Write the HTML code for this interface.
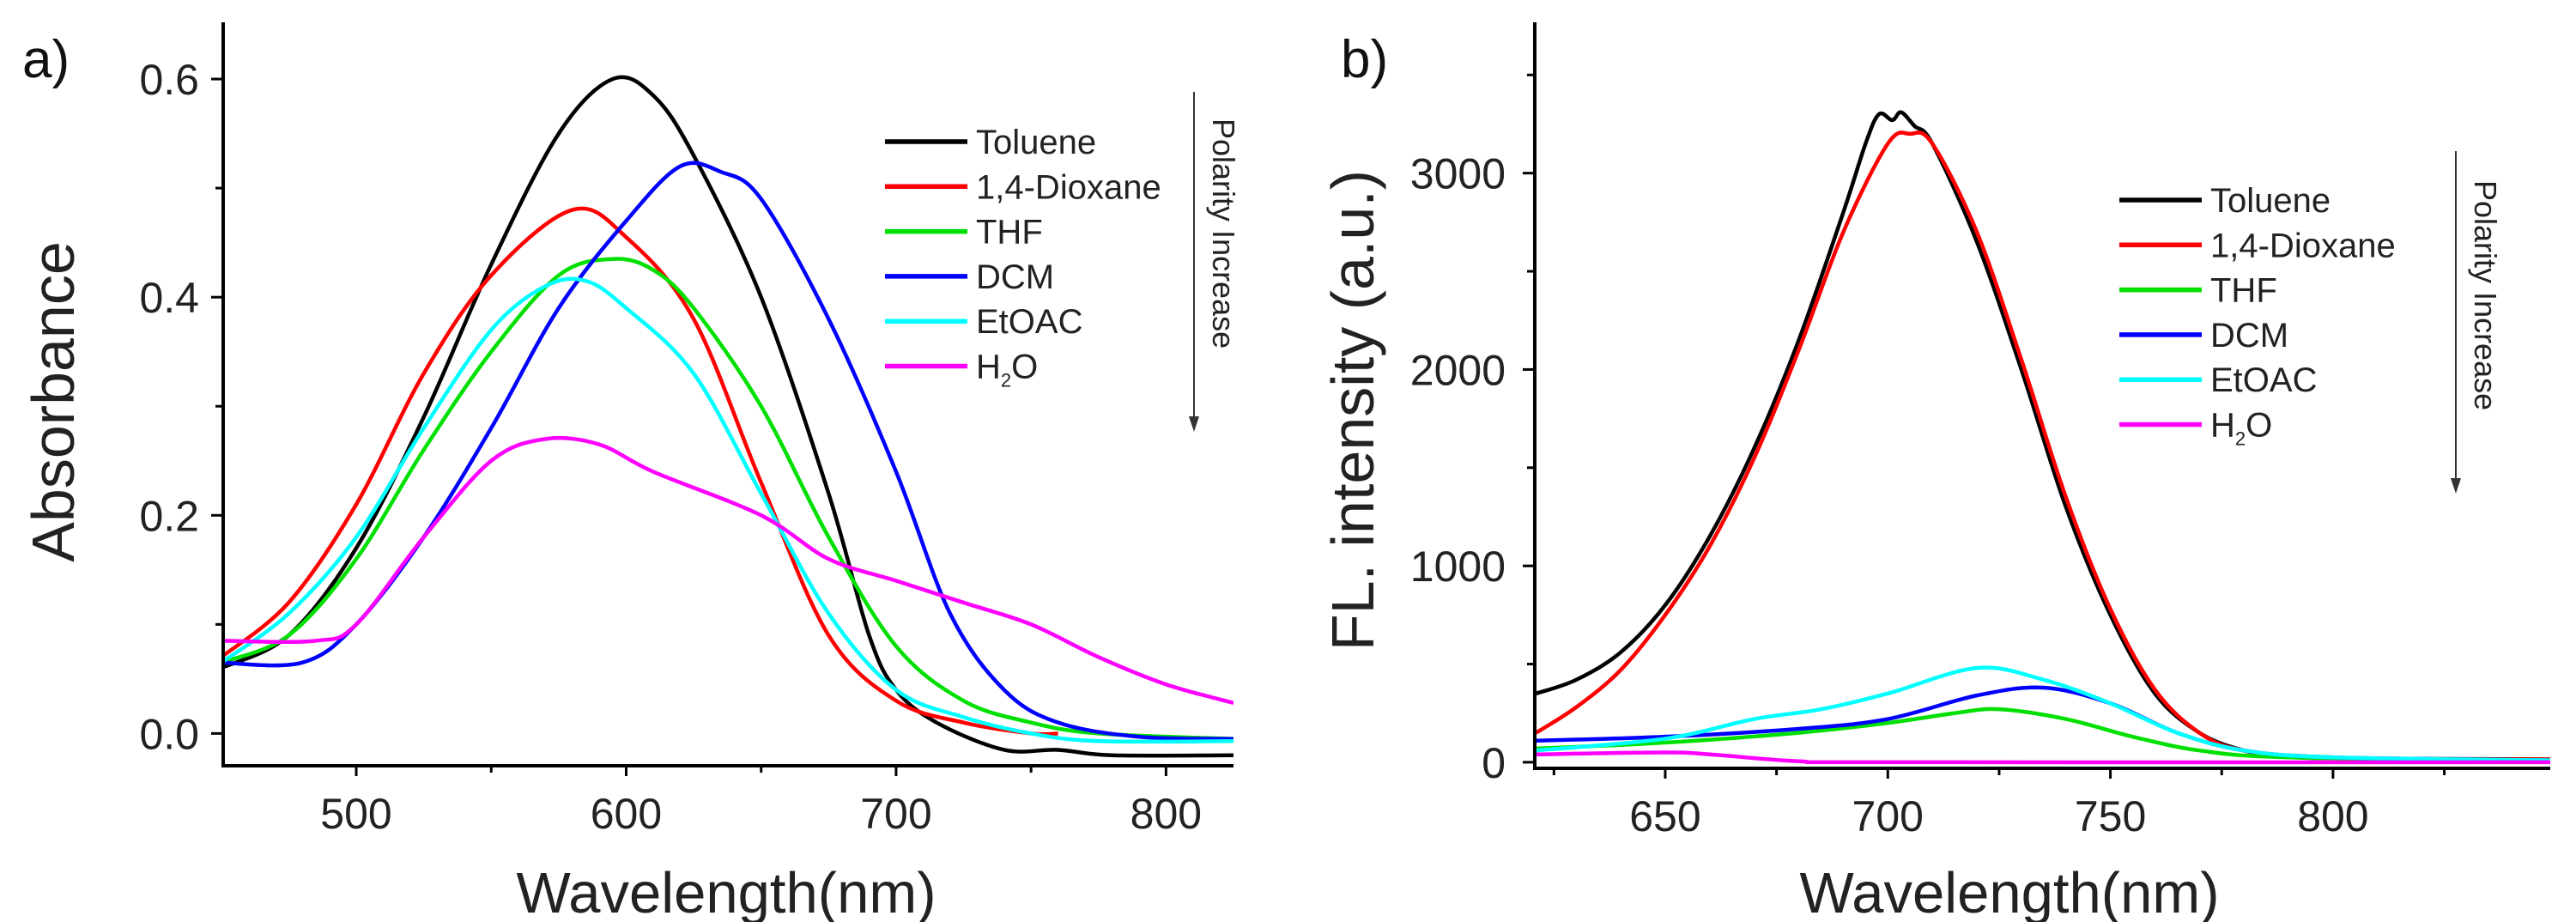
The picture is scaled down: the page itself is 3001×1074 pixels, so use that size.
<!DOCTYPE html>
<html><head><meta charset="utf-8"><style>
html,body{margin:0;padding:0;background:#fff;overflow:hidden;}
svg{display:block;font-family:"Liberation Sans",sans-serif;}
</style></head><body>
<svg id="c" width="3001" height="1074" viewBox="0 0 3001 1074" xmlns="http://www.w3.org/2000/svg"></svg>
<script>
// Panel a data
const aNames=["Toluene","1,4-Dioxane","THF","DCM","EtOAC","H2O"];
const aToluene=[[450,.06],[475,.09],[500,.17],[525,.29],[550,.43],[575,.55],[595,.60],[610,.585],[625,.53],[650,.40],[675,.22],[690,.09],[700,.04],[715,.01],[740,-.015],[760,-.015],[780,-.02],[825,-.02]];
const aDioxane=[[450,.07],[475,.12],[500,.21],[525,.33],[550,.42],[580,.48],[600,.455],[625,.38],[650,.23],[675,.09],[700,.03],[725,.01],[750,0],[760,0]];
const aTHF=[[450,.065],[475,.09],[500,.16],[525,.26],[550,.35],[575,.42],[595,.435],[610,.425],[625,.39],[650,.30],[675,.18],[700,.08],[725,.03],[750,.01],[775,0],[825,-.005]];
const aDCM=[[450,.065],[480,.065],[500,.10],[525,.18],[550,.28],[575,.39],[600,.47],[620,.52],[635,.515],[650,.49],[675,.38],[700,.24],[720,.11],[740,.04],[760,.01],[790,-.003],[825,-.005]];
const aEtOAC=[[450,.065],[475,.11],[500,.18],[525,.28],[550,.37],[570,.41],[585,.415],[600,.39],[625,.33],[650,.22],[675,.11],[700,.04],[725,.015],[750,0],[775,-.007],[825,-.007]];
const aH2O=[[450,.085],[485,.085],[500,.10],[525,.18],[550,.25],[570,.27],[590,.265],[610,.24],[650,.20],[675,.16],[700,.14],[725,.12],[750,.10],[775,.07],[800,.045],[825,.028]];
const aXTicks=[500,600,700,800];
const aYTicks=[0.0,0.2,0.4,0.6];
// Panel b data
const bToluene=[[621,350],[630,420],[640,560],[650,800],[660,1150],[670,1600],[680,2150],[690,2800],[695,3150],[698,3300],[701,3270],[703,3310],[706,3240],[710,3150],[720,2650],[730,2000],[740,1300],[750,750],[760,350],[770,150],[780,60],[790,30],[800,20],[849,15]];
const bDioxane=[[621,150],[630,280],[640,470],[650,750],[660,1100],[670,1550],[680,2100],[690,2700],[700,3150],[705,3200],[710,3150],[720,2700],[730,2050],[740,1350],[750,780],[760,370],[770,150],[780,60],[800,20],[849,15]];
const bTHF=[[621,70],[650,100],[680,150],[700,200],[715,250],[725,270],[740,220],[755,130],[770,60],[790,25],[849,10]];
const bDCM=[[621,110],[650,130],[680,170],[700,220],[720,340],[735,380],[750,300],[765,150],[780,60],[800,25],[849,10]];
const bEtOAC=[[621,60],[650,120],[670,220],[685,270],[700,350],[720,480],[735,420],[750,300],[765,150],[780,60],[800,25],[849,10]];
const bH2O=[[621,40],[650,50],[660,40],[680,5],[700,0],[849,0]];
const bXTicks=[650,700,750,800];
const bYTicks=[0,1000,2000,3000];
const colors=["#000000","#ff0000","#00e000","#0000ff","#00ffff","#ff00ff"];

const svg=document.getElementById('c');
const NS="http://www.w3.org/2000/svg";
function mk(tag,attrs,parent){const e=document.createElementNS(NS,tag);for(const k in attrs)e.setAttribute(k,attrs[k]);(parent||svg).appendChild(e);return e;}
function pathD(pts,sx,sy){
  const p=pts.map(d=>[sx(d[0]),sy(d[1])]);
  let d="M"+p[0][0]+","+p[0][1];
  for(let i=0;i<p.length-1;i++){
    const p0=p[Math.max(0,i-1)],p1=p[i],p2=p[i+1],p3=p[Math.min(p.length-1,i+2)];
    const c1=[p1[0]+(p2[0]-p0[0])/6,p1[1]+(p2[1]-p0[1])/6];
    const c2=[p2[0]-(p3[0]-p1[0])/6,p2[1]-(p3[1]-p1[1])/6];
    d+=" C"+c1+" "+c2+" "+p2;
  }
  return d;
}
function panel(cfg){
  const {L,R,T,B,x0,x1,y0,y1,series,xt,xm,yt,ym,fmt,label,ytitle,ytx,xtx,ylOff,lx,ly,arrowX,arrowY0,arrowY1,ptY,key}=cfg;
  const sx=v=>L+(v-x0)/(x1-x0)*(R-L);
  const sy=v=>B-(v-y0)/(y1-y0)*(B-T);
  const g=mk('g',{});
  
  
  const clip=mk('clipPath',{id:'clip'+key},g);
  mk('rect',{x:L,y:T,width:R-L,height:B-T},clip);
  series.forEach((s,i)=>{
    const p=mk('path',{d:pathD(s,sx,sy),fill:'none',stroke:colors[i],'stroke-width':4.5,'clip-path':'url(#clip'+key+')'},g);
    
    
  });
  const ax=mk('path',{d:`M${L},${T} V${B} H${R}`,fill:'none',stroke:'#000','stroke-width':4},g);
  
  
  xt.forEach(v=>{
    mk('line',{x1:sx(v),x2:sx(v),y1:B,y2:B+12,stroke:'#000','stroke-width':3},g);
    const t=mk('text',{x:sx(v),y:B+73,'font-size':50,'text-anchor':'middle',fill:'#222'},g);
    t.textContent=v;
    
    
  });
  xm.forEach(v=>mk('line',{x1:sx(v),x2:sx(v),y1:B,y2:B+8,stroke:'#000','stroke-width':3},g));
  yt.forEach(v=>{
    mk('line',{x1:L-14,x2:L,y1:sy(v),y2:sy(v),stroke:'#000','stroke-width':3},g);
    const t=mk('text',{x:L-ylOff,y:sy(v)+18,'font-size':50,'text-anchor':'end',fill:'#222'},g);
    t.textContent=fmt(v);
    
    
  });
  ym.forEach(v=>mk('line',{x1:L-9,x2:L,y1:sy(v),y2:sy(v),stroke:'#000','stroke-width':3},g));
  const xtt=mk('text',{x:xtx,y:1063,'font-size':67,'text-anchor':'middle',fill:'#222'},g);
  xtt.textContent='Wavelength(nm)';
  
  
  const ytt=mk('text',{x:0,y:0,'font-size':70,'text-anchor':'middle',fill:'#222',transform:`translate(${ytx},${cfg.ytc}) rotate(-90)`},g);
  ytt.textContent=ytitle;
  
  
  const lb=mk('text',{x:label[0],y:label[1],'font-size':62,fill:'#111'},g);
  lb.textContent=key+')';
  
  
  const names=["Toluene","1,4-Dioxane","THF","DCM","EtOAC","H"];
  names.forEach((n,i)=>{
    const y=ly+i*52.3;
    const le=mk('g',{},g);
    
    
    mk('line',{x1:lx,x2:lx+96,y1:y,y2:y,stroke:colors[i],'stroke-width':5.5},le);
    const t=mk('text',{x:lx+106,y:y+14,'font-size':40,fill:'#222'},le);
    t.textContent=n;
    if(i===5){const s=mk('tspan',{'font-size':22,dy:10},t);s.textContent='2';const o=mk('tspan',{dy:-10},t);o.textContent='O';}
  });
  mk('line',{x1:arrowX,x2:arrowX,y1:arrowY0,y2:arrowY1-14,stroke:'#333','stroke-width':2},g);
  mk('polygon',{points:`${arrowX-6},${arrowY1-18} ${arrowX+6},${arrowY1-18} ${arrowX},${arrowY1}`,fill:'#333'},g);
  const pt=mk('text',{x:0,y:0,'font-size':36,fill:'#222',transform:`translate(${arrowX+22},${ptY}) rotate(90)`},g);
  pt.textContent='Polarity Increase';
  
  
}
panel({key:'a',L:260,R:1437,T:26,B:892,x0:450.7,x1:825,y0:-0.0296,y1:0.652,
  series:[aToluene,aDioxane,aTHF,aDCM,aEtOAC,aH2O],xt:aXTicks,xm:[550,650,750],yt:aYTicks,ym:[0.1,0.3,0.5],
  fmt:v=>v.toFixed(1),label:[26,90],ytitle:'Absorbance',ytx:86,ytc:468,xtx:846,ylOff:28,lx:1031,ly:165,arrowX:1391,arrowY0:107,arrowY1:503,ptY:138});
panel({key:'b',L:1788,R:2971,T:26,B:895,x0:620.7,x1:848.8,y0:-31,y1:3768,
  series:[bToluene,bDioxane,bTHF,bDCM,bEtOAC,bH2O],xt:bXTicks,xm:[625,675,725,775,825],yt:bYTicks,ym:[500,1500,2500,3500],
  fmt:v=>String(v),label:[1562,90],ytitle:'FL. intensity (a.u.)',ytx:1600,ytc:478,xtx:2341,ylOff:34,lx:2469,ly:233,arrowX:2861,arrowY0:176,arrowY1:575,ptY:210});
</script>
</body></html>
